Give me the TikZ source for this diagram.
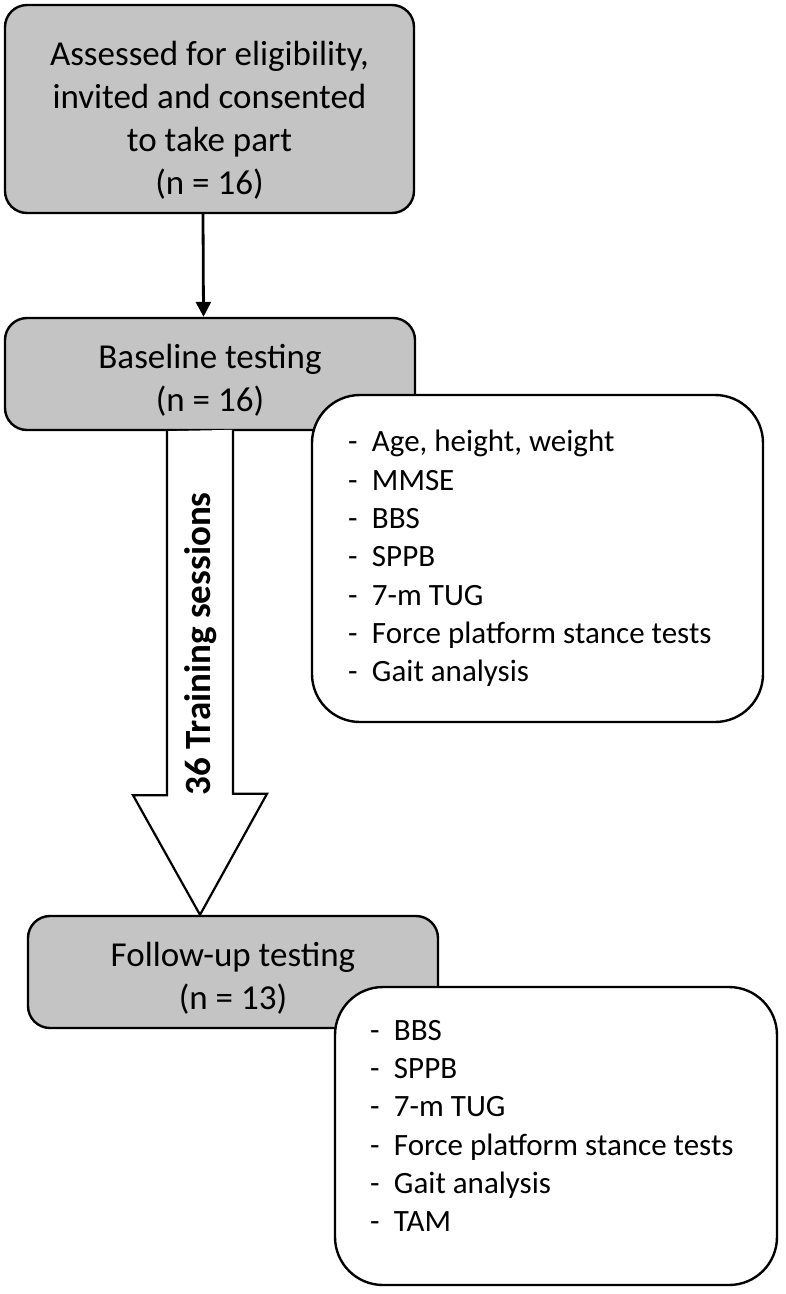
\documentclass[tikz,border=0pt]{standalone}
\usepackage{fontspec}
\setmainfont{Carlito}
\usetikzlibrary{arrows.meta}
\definecolor{boxgray}{RGB}{196,196,196}
\newcommand{\dashitem}{\makebox[24pt][l]{-}}

\begin{document}
\begin{tikzpicture}[x=1pt, y=-1pt,
        graybox/.style={draw, line width=2.4pt, fill=boxgray, rounded corners=22pt,
            align=center, inner sep=0pt, font=\fontsize{35}{43}\selectfont},
        listbox/.style={draw, line width=2.4pt, fill=white, rounded corners=48pt,
            align=flush left, inner sep=0pt, font=\fontsize{31}{38.3}\selectfont},
        blockarrow/.style={draw, line width=2.2pt, fill=white, line join=miter},
        ]
    \useasboundingbox (0,0) rectangle (785,1294);
    \node (assess) [graybox, minimum width=409pt, minimum height=208pt] at (209.5,109)
        {\rule{0pt}{46pt}Assessed for eligibility,\\invited and consented\\to take part\\(n = 16)};
    \node (base) [graybox, minimum width=410pt, minimum height=112pt] at (210,374)
        {\rule{0pt}{36pt}Baseline testing\\(n = 16)};
    \draw[line width=2.8pt, -{Triangle[length=15pt,width=15pt]}]
        ([xshift=-6.5pt]assess.south) -- ([xshift=-6.5pt]base.north);
    \node (blist) [listbox, minimum width=451pt, minimum height=327pt, text width=379pt]
        at (537.5,558.5)
        {\dashitem Age, height, weight\\
         \dashitem MMSE\\
         \dashitem BBS\\
         \dashitem SPPB\\
         \dashitem 7-m TUG\\
         \mbox{\dashitem Force platform stance tests}\\
         \dashitem Gait analysis};
    \node (follow) [graybox, minimum width=410pt, minimum height=112pt] at (233,972)
        {\rule{0pt}{36pt}Follow-up testing\\(n = 13)};
    \coordinate (axis) at (200,0);
    \draw[blockarrow] (base.south -| axis) ++(-33,0) -- ++(0,364) -- ++(-34,0)
        -- (follow.north -| axis) -- ++(67,-121) -- ++(-34,0) -- ++(0,-364);
    \node (train) [rotate=90, font=\fontsize{37}{44}\selectfont\bfseries] at (201,644)
        {36 Training sessions};
    \node (flist) [listbox, minimum width=442pt, minimum height=298pt, text width=372pt]
        at (556,1136)
        {\dashitem BBS\\
         \dashitem SPPB\\
         \dashitem 7-m TUG\\
         \mbox{\dashitem Force platform stance tests}\\
         \dashitem Gait analysis\\
         \dashitem TAM\rule[-20pt]{0pt}{20pt}};
\end{tikzpicture}
\end{document}
